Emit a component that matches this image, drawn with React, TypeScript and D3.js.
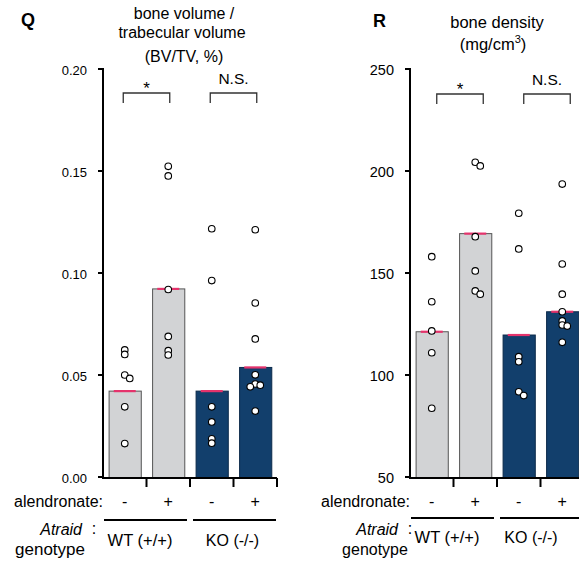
import React from 'react';
import * as d3 from 'd3';

// groups along the x axis
const groupKeys = ['WT-', 'WT+', 'KO-', 'KO+'];
const alendronate = ['-', '+', '-', '+'];
const genotypeLabels = ['WT (+/+)', 'KO (-/-)'];
const significance = ['*', 'N.S.'];

// panel Q: BV/TV
const bvtvTicks = [0, 0.05, 0.1, 0.15, 0.2];
const bvtvTickLabels = ['0.00', '0.05', '0.10', '0.15', '0.20'];
const bvtvMeans = [0.0421, 0.0922, 0.0421, 0.0537];
const bvtvPoints = [
    [0.0623, 0.0601, 0.05, 0.0483, 0.0344, 0.0164],
    [0.1523, 0.1476, 0.0919, 0.0689, 0.0619, 0.0598],
    [0.1217, 0.0963, 0.0344, 0.027, 0.0187, 0.0166],
    [0.1212, 0.0853, 0.0677, 0.0501, 0.0456, 0.045, 0.0442, 0.0323]
];

// panel R: bone density
const densityTicks = [50, 100, 150, 200, 250];
const densityTickLabels = ['50', '100', '150', '200', '250'];
const densityMeans = [121.2, 169.3, 119.6, 131.0];
const densityPoints = [
    [158.0, 135.9, 121.6, 110.9, 83.7],
    [204.3, 202.5, 167.8, 151.0, 141.2, 139.6],
    [179.3, 161.8, 109.0, 106.5, 91.8, 89.9],
    [193.6, 154.4, 139.6, 131.0, 126.5, 124.5, 124.0, 116.0]
];

const FONT = 'Liberation Sans, Arial, sans-serif';
const barFill = ['#d2d3d5', '#d2d3d5', '#123f6c', '#123f6c'];
const barStroke = ['#555', '#555', '#0b2a4a', '#0b2a4a'];

// nudge points sideways when they sit on top of each other
function dodge(ys, thr = 4, step = 5) {
    const placed = [];
    return ys.map((y) => {
        for (const dx of [0, step, -step, 2 * step]) {
            if (!placed.some((p) => Math.abs(p.y - y) < thr && Math.abs(p.dx - dx) < step * 0.9)) {
                placed.push({ y, dx });
                return dx;
            }
        }
        return 0;
    });
}

function Panel(props) {
    const p = props;
    const x = d3.scaleBand().domain(groupKeys).range([p.x0, p.x1]);
    const y = d3.scaleLinear().domain(p.domain).range([477, 69]);
    const bw = x.bandwidth();
    const cx = (k) => x(k) + bw / 2;
    const base = 478;

    const bracket = (a, b, label) => {
        const xa = cx(groupKeys[a]) + p.brShift;
        const xb = cx(groupKeys[b]) + p.brShift + 3;
        const m = (xa + xb) / 2;
        return (
            <g key={label + a}>
                <path d={`M${xa},${p.brY + 10}V${p.brY}H${xb}V${p.brY + 10}`} fill="none" stroke="#333" strokeWidth={1.3} />
                <text x={m} y={label === '*' ? p.brY + 1 : p.brY - 9} textAnchor="middle"
                    fontSize={label === '*' ? 17 : 15.5} fontFamily={FONT}>{label}</text>
            </g>
        );
    };

    return (
        <g>
            <text x={p.letterX} y={p.letterY} fontSize={18} fontWeight="bold" fontFamily={FONT}>{p.letter}</text>
            {p.title}

            {/* bars */}
            {groupKeys.map((k, i) => (
                <rect key={k} x={x(k) + bw * 0.14} y={y(p.means[i])} width={bw * 0.74} height={base - y(p.means[i])}
                    fill={barFill[i]} stroke={barStroke[i]} strokeWidth={1} />
            ))}
            {groupKeys.map((k, i) => (
                <line key={'m' + k} x1={cx(k) - 11} x2={cx(k) + 11} y1={y(p.means[i])} y2={y(p.means[i])}
                    stroke="#e5336c" strokeWidth={2.2} />
            ))}
            {groupKeys.map((k, i) => {
                const ys = p.points[i].map((v) => y(v));
                const dx = dodge(ys);
                return ys.map((yy, j) => (
                    <circle key={k + j} cx={cx(k) + dx[j]} cy={yy} r={3.3} fill="#fff" stroke="#000" strokeWidth={1.1} />
                ));
            })}

            {/* y axis */}
            <line x1={p.x0} x2={p.x0} y1={68} y2={479} stroke="#000" strokeWidth={2} />
            {p.ticks.map((t, i) => (
                <g key={'t' + t}>
                    <line x1={p.x0 - 5} x2={p.x0} y1={y(t)} y2={y(t)} stroke="#000" strokeWidth={2} />
                    <text x={p.x0 - 16} y={y(t) + p.tickFont * 0.36 + 1} textAnchor="end" fontSize={p.tickFont} fontFamily={FONT}>{p.tickLabels[i]}</text>
                </g>
            ))}

            {/* x axis */}
            <line x1={p.x0 - 1} x2={p.x1} y1={base} y2={base} stroke="#000" strokeWidth={2} />
            {groupKeys.map((k) => (
                <line key={'xt' + k} x1={x(k) + bw} x2={x(k) + bw} y1={base} y2={base + 9} stroke="#000" strokeWidth={2} />
            ))}

            {/* significance */}
            {bracket(0, 1, significance[0])}
            {bracket(2, 3, significance[1])}

            {/* treatment labels */}
            <text x={p.x0} y={507} textAnchor="end" fontSize={16} fontFamily={FONT}>alendronate:</text>
            {groupKeys.map((k, i) => (
                <text key={'a' + k} x={cx(k)} y={507} textAnchor="middle" fontSize={16} fontFamily={FONT}>{alendronate[i]}</text>
            ))}
            <line x1={p.x0 + 1} x2={x(groupKeys[2]) - 3} y1={p.lineY} y2={p.lineY} stroke="#000" strokeWidth={2} />
            <line x1={x(groupKeys[2]) + 3} x2={p.x1 - 1} y1={p.lineY} y2={p.lineY} stroke="#000" strokeWidth={2} />
            <text x={p.atraidX} y={535} textAnchor="end" fontSize={16} fontStyle="italic" fontFamily={FONT}>Atraid</text>
            <text x={p.atraidX + 12} y={534} textAnchor="middle" fontSize={16} fontFamily={FONT}>:</text>
            <text x={p.genoX} y={555} textAnchor="middle" fontSize={p.genoFont} fontFamily={FONT}>genotype</text>
            <text x={x(groupKeys[1]) + p.wtShift} y={p.gtY} textAnchor="middle" fontSize={16.5} fontFamily={FONT}>{genotypeLabels[0]}</text>
            <text x={x(groupKeys[3]) + p.koShift} y={p.gtY} textAnchor="middle" fontSize={16} fontFamily={FONT}>{genotypeLabels[1]}</text>
        </g>
    );
}

export default function App() {
    const titleQ = (
        <text fontSize={16} fontFamily={FONT} textAnchor="middle">
            <tspan x={184} y={19}>bone volume /</tspan>
            <tspan x={182} y={38}>trabecular volume</tspan>
            <tspan x={184} y={62}>(BV/TV, %)</tspan>
        </text>
    );
    const titleR = (
        <text fontSize={16.5} fontFamily={FONT} textAnchor="middle">
            <tspan x={497} y={28}>bone density</tspan>
            <tspan x={493} y={50}>(mg/cm</tspan>
            <tspan fontSize={11} dy={-7}>3</tspan>
            <tspan fontSize={16.5} dy={7}>)</tspan>
        </text>
    );
    return (
        <svg width={579} height={561} style={{ position: 'absolute', left: 0, top: 0, background: '#fff' }}>
            <Panel letter="Q" letterX={21} letterY={26} title={titleQ}
                x0={103} x1={277} domain={[0, 0.2]} ticks={bvtvTicks} tickLabels={bvtvTickLabels} tickFont={13}
                means={bvtvMeans} points={bvtvPoints} brShift={-1.5} brY={93} lineY={520}
                atraidX={82} genoX={50} genoFont={17} gtY={546} wtShift={-6.5} koShift={-1} />
            <Panel letter="R" letterX={373} letterY={27} title={titleR}
                x0={410} x1={584} domain={[50, 250]} ticks={densityTicks} tickLabels={densityTickLabels} tickFont={14.5}
                means={densityMeans} points={densityPoints} brShift={5} brY={94} lineY={518}
                atraidX={398} genoX={375} genoFont={16} gtY={543} wtShift={-6.5} koShift={-9.5} />
        </svg>
    );
}
